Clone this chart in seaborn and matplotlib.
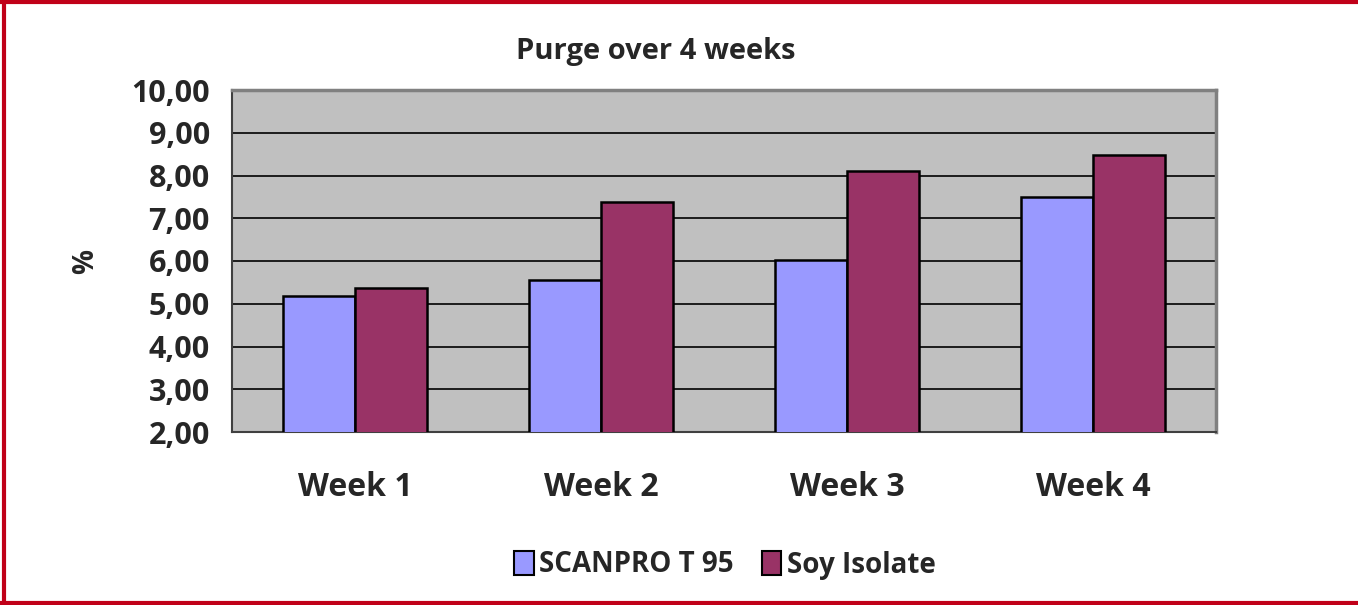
import pandas as pd
import matplotlib
matplotlib.use("Agg")
import matplotlib.pyplot as plt
import seaborn as sns
from matplotlib.ticker import FuncFormatter, FixedLocator
from matplotlib.lines import Line2D

# data
weeks = ["Week 1", "Week 2", "Week 3", "Week 4"]
scanpro = [5.18, 5.56, 6.02, 7.49]
soy = [5.37, 7.38, 8.10, 8.47]
series_names = ["SCANPRO T 95", "Soy Isolate"]
colors = ["#9999FF", "#993366"]

df = pd.DataFrame({
    "Week": weeks * 2,
    "Series": [series_names[0]] * 4 + [series_names[1]] * 4,
    "Value": scanpro + soy,
})

sns.set_style("white")
plt.rcParams["font.family"] = ["Open Sans", "DejaVu Sans"]
plt.rcParams["font.weight"] = "bold"

fig = plt.figure(figsize=(13.58, 6.05), dpi=100)
ax = fig.add_axes([232 / 1358, 1 - 432 / 605, 984 / 1358, 342 / 605])
ax.set_facecolor("#C0C0C0")

sns.barplot(data=df, x="Week", y="Value", hue="Series", palette=colors,
            saturation=1, width=0.585, edgecolor="black", linewidth=1.8,
            ax=ax, zorder=3)

ax.set_ylim(2, 10)
ax.set_xlim(-0.5, 3.5)
ax.set_yticks(range(2, 11))
ax.yaxis.set_major_formatter(FuncFormatter(lambda v, p: f"{v:.2f}".replace(".", ",")))
ax.grid(axis="y", color="black", linewidth=1.2, zorder=1)
ax.set_axisbelow(True)

ax.tick_params(axis="y", direction="out", length=8, width=1, color="black",
               labelsize=22, pad=8)
ax.tick_params(axis="x", which="major", length=0, labelsize=23, pad=28)
ax.xaxis.set_minor_locator(FixedLocator([-0.5, 0.5, 1.5, 2.5, 3.5]))
ax.tick_params(axis="x", which="minor", direction="out", length=8, width=1, color="black")
for lab in ax.get_xticklabels() + ax.get_yticklabels():
    lab.set_fontweight("bold")

for side in ["left", "bottom"]:
    ax.spines[side].set_color("#404040")
    ax.spines[side].set_linewidth(1.5)
for side in ["top", "right"]:
    ax.spines[side].set_color("#808080")
    ax.spines[side].set_linewidth(2.5)

ax.set_xlabel("")
ax.set_ylabel("%", fontsize=20, fontweight="bold", labelpad=22)
fig.text(656 / 1358, 1 - 51 / 605, "Purge over 4 weeks", fontsize=21,
         fontweight="bold", ha="center", va="center")

ax.legend_.remove()
handles = [plt.Rectangle((0, 0), 1, 1, facecolor=c, edgecolor="black", linewidth=1.5)
           for c in colors]
fig.legend(handles, series_names, loc="center", bbox_to_anchor=(725 / 1358, 1 - 565 / 605),
           ncol=2, frameon=False, handlelength=0.7, handleheight=1.0,
           handletextpad=0.2, columnspacing=1.0, prop={"weight": "bold", "size": 20})

# red frame around the chart
red = "#C00018"
fig.add_artist(Line2D([0, 1], [1 - 2 / 605, 1 - 2 / 605], color=red, linewidth=3))
fig.add_artist(Line2D([4 / 1358, 4 / 1358], [0, 1], color=red, linewidth=3))
fig.add_artist(Line2D([0, 1], [2 / 605, 2 / 605], color=red, linewidth=3))

fig.savefig("out.png", dpi=100)
